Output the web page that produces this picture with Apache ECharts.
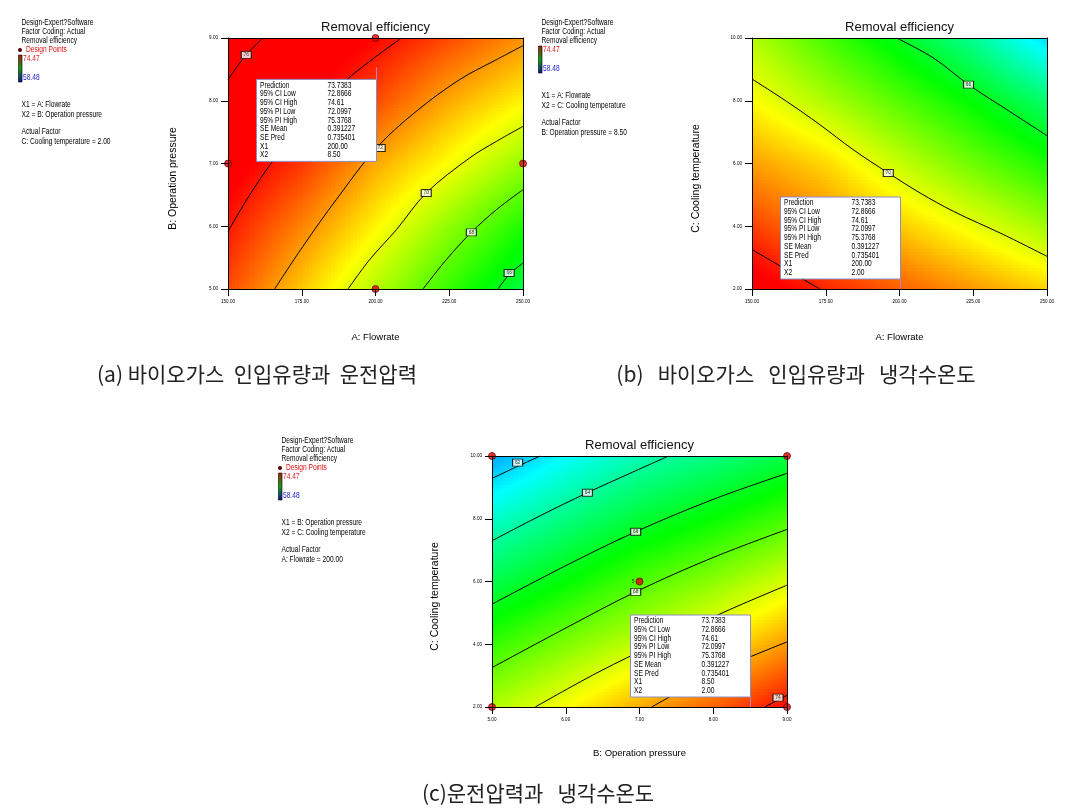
<!DOCTYPE html>
<html><head><meta charset="utf-8">
<script src="https://cdn.jsdelivr.net/npm/echarts@6/dist/echarts.min.js"></script>
<style>html,body{margin:0;padding:0;background:#fff}#c{width:1065px;height:810px}</style>
</head><body><div id="c"></div>
<script>
// ---------------- DATA ----------------
const flowTicks = [150, 175, 200, 225, 250];
const pressTicks = [5, 6, 7, 8, 9];
const coolTicks = [2, 4, 6, 8, 10];
const colorMin = 58.48, colorMax = 74.47;

// Response surface estimates at grid nodes (rows = Y ticks bottom->top, cols = X ticks left->right)
const surfA = [ // X: Flowrate, Y: Operation pressure
  [73.3, 71.3, 69.3, 67.3, 65.4],
  [74.1, 72.4, 70.6, 68.7, 66.9],
  [74.9, 73.6, 71.8, 70.4, 68.8],
  [75.7, 74.6, 73.3, 71.8, 70.6],
  [76.5, 75.4, 74.4, 73.3, 72.2]
];
const surfB = [ // X: Flowrate, Y: Cooling temperature
  [75.0, 73.9, 73.0, 72.1, 71.2],
  [73.5, 72.4, 71.3, 70.2, 69.0],
  [72.0, 71.1, 69.6, 68.2, 66.9],
  [70.5, 69.2, 67.8, 66.4, 64.8],
  [69.3, 67.6, 66.0, 64.2, 61.9]
];
const surfC = [ // X: Operation pressure, Y: Cooling temperature
  [69.25, 70.46, 71.8, 72.95, 74.36],
  [67.3, 68.5, 69.6, 70.75, 72.1],
  [65.3, 66.46, 67.7, 68.7, 69.87],
  [63.3, 64.5, 65.64, 66.55, 67.6],
  [61.1, 62.5, 63.7, 64.5, 65.4]
];

// Contour lines
const a76 = [[150,8.336],[156.2,8.734],[161.9,9.0]];
const a74 = [[150,5.919],[158.5,6.583],[169.8,7.327],[181.1,7.911],[191.2,8.373],[200.3,8.708],[208.8,9.0]];
const a72 = [[165.8,5.0],[175.4,5.680],[186.7,6.424],[200.3,7.247],[213.8,7.831],[228.5,8.336],[241.0,8.655],[250,8.878]];
const a70 = [[190.7,5.0],[198.0,5.467],[207.1,5.946],[217.2,6.530],[231.9,7.088],[241.0,7.353],[250,7.592]];
const a68 = [[216.1,5.0],[224.0,5.467],[232.5,5.903],[241.0,6.264],[250,6.583]];
const a66 = [[241.5,5.0],[245.3,5.228],[250,5.414]];
const b66 = [[199.0,10.0],[211.5,9.362],[223.4,8.513],[236.4,7.716],[250,6.887]];
const b70 = [[150,8.693],[161.7,7.981],[173.0,7.238],[184.3,6.441],[196.2,5.697],[207.0,5.060],[218.3,4.475],[235.3,3.732],[250,3.041]];
const b74 = [[150,3.254],[161.7,2.616],[173.0,2.0]];
const c62 = [[5,9.287],[5.338,9.660],[5.654,10.0]];
const c64 = [[5,7.298],[5.654,8.096],[6.294,8.830],[6.871,9.447],[7.395,10.0]];
const c66 = [[5,5.277],[5.970,6.468],[6.948,7.585],[7.999,8.617],[9,9.447]];
const c68 = [[5,3.255],[5.970,4.479],[6.948,5.670],[7.999,6.766],[9,7.660]];
const c70 = [[5.586,2.0],[6.421,3.085],[7.323,4.128],[8.224,5.106],[9,5.883]];
const c72 = [[7.165,2.0],[8.089,3.170],[9,4.074]];
const c74 = [[8.698,2.0],[9,2.372]];

// Contour labels [x, y, text]
const labelsA = [[156.2,8.73,'76'],[201.6,7.247,'72'],[217.2,6.53,'70'],[232.5,5.903,'68'],[245.3,5.255,'66']];
const labelsB = [[223.4,8.513,'66'],[196.2,5.697,'70']];
const labelsC = [[5.347,9.787,'62'],[6.294,8.83,'64'],[6.948,7.585,'66'],[6.948,5.67,'68'],[8.878,2.298,'74']];

// Design points
const designA = [[200,9],[150,7],[250,7],[200,5]];
const designC = [[5,10],[9,10],[5,2],[9,2],[7,6]];

// Prediction boxes
const predA = [200, 8.5], predB = [200, 2], predC = [8.5, 2];
const predNames = ['Prediction','95% CI Low','95% CI High','95% PI Low','95% PI High','SE Mean','SE Pred','X1','X2'];
const predStats = ['73.7383','72.8666','74.61','72.0997','75.3768','0.391227','0.735401'];
const predXA = ['200.00','8.50'], predXB = ['200.00','2.00'], predXC = ['8.50','2.00'];

// ---------------- RENDERING ----------------
const SANS = 'Liberation Sans';
const KR = '"Noto Sans CJK KR"';
const SQUEEZE = 0.78;

const cmap = [[0,[0,0,255]],[0.25,[0,255,255]],[0.5,[0,255,0]],[0.75,[255,255,0]],[1,[255,0,0]]];
function colorOf(v){
  let t = (v - colorMin) / (colorMax - colorMin);
  t = Math.max(0, Math.min(1, t));
  for (let k = 0; k < cmap.length - 1; k++) {
    const a = cmap[k], b = cmap[k+1];
    if (t <= b[0]) {
      const f = (t - a[0]) / (b[0] - a[0]);
      const c = a[1].map((x, n) => Math.round(x + (b[1][n] - x) * f));
      return 'rgb(' + c.join(',') + ')';
    }
  }
  return 'rgb(255,0,0)';
}

function heatSeries(xT, yT, surf, ai){
  const cells = [];
  for (let j = 0; j < yT.length - 1; j++) for (let i = 0; i < xT.length - 1; i++) cells.push([xT[i], yT[j], i, j]);
  return {
    type: 'custom', xAxisIndex: ai, yAxisIndex: ai, z: 1, silent: true, animation: false,
    data: cells, encode: {x: 0, y: 1},
    renderItem(params, api){
      const i = api.value(2), j = api.value(3);
      const p0 = api.coord([xT[i], yT[j]]), p1 = api.coord([xT[i+1], yT[j+1]]);
      const v00 = surf[j][i], v10 = surf[j][i+1], v01 = surf[j+1][i], v11 = surf[j+1][i+1];
      const N = 20, w = (p1[0] - p0[0]) / N, h = (p0[1] - p1[1]) / N;
      const children = [];
      for (let a = 0; a < N; a++) for (let b = 0; b < N; b++) {
        const u = (a + 0.5) / N, t = (b + 0.5) / N;
        const v = v00*(1-u)*(1-t) + v10*u*(1-t) + v01*(1-u)*t + v11*u*t;
        children.push({type: 'rect', shape: {x: p0[0] + a*w, y: p0[1] - (b+1)*h, width: w + 0.8, height: h + 0.8}, style: {fill: colorOf(v)}});
      }
      return {type: 'group', children};
    }
  };
}
function lineSeries(pts, ai){
  return {type: 'line', xAxisIndex: ai, yAxisIndex: ai, data: pts, smooth: 0.35, symbol: 'none', silent: true,
    animation: false, lineStyle: {color: '#000', width: 1}, z: 2};
}
function labelSeries(pts, ai){
  return {type: 'scatter', xAxisIndex: ai, yAxisIndex: ai, data: pts, symbol: 'rect', symbolSize: [10, 7], silent: true,
    animation: false, z: 3, itemStyle: {color: '#fff', borderColor: '#000', borderWidth: 1},
    label: {show: true, position: 'inside', formatter: p => p.value[2], fontSize: 4.8, color: '#000', fontFamily: SANS}};
}
function designSeries(pts, ai){
  return {type: 'scatter', xAxisIndex: ai, yAxisIndex: ai, data: pts, symbol: 'circle', symbolSize: 7, clip: false,
    silent: true, animation: false, z: 6, itemStyle: {color: '#e00000', borderColor: '#600000', borderWidth: 0.9}};
}
function sqText(s, x, y, color, size){
  return {type: 'text', x: x, y: y, scaleX: SQUEEZE, silent: true,
    style: {text: s, x: 0, y: 0, fill: color || '#000', fontSize: size || 8.5, fontFamily: SANS, verticalAlign: 'middle'}};
}
function predSeries(pt, xs, below, ai){
  return {
    type: 'custom', xAxisIndex: ai, yAxisIndex: ai, z: 5, silent: true, animation: false, clip: false,
    data: [pt], encode: {x: 0, y: 1},
    renderItem(params, api){
      const c = api.coord([api.value(0), api.value(1)]);
      const W = 120, H = 82;
      const right = Math.round(c[0]) + 0.5, left = right - W;
      const top = below ? c[1] + 10 : c[1] - 10 - H;
      const vals = predStats.concat(xs);
      const ch = [];
      ch.push({type: 'line', shape: below ? {x1: right, y1: c[1] - 2, x2: right, y2: top} : {x1: right, y1: top + H, x2: right, y2: c[1]},
        style: {stroke: '#c080d0', lineWidth: 1}});
      ch.push({type: 'rect', shape: {x: left, y: top, width: W, height: H}, style: {fill: '#fff', stroke: '#8c8cc0', lineWidth: 1}});
      predNames.forEach((n, k) => {
        const y = top + 6 + k * 8.7;
        ch.push(sqText(n, left + 3.5, y));
        ch.push(sqText(vals[k], left + 71, y));
      });
      return {type: 'group', children: ch};
    }
  };
}

const grids = [
  {left: 228, top: 38, width: 295, height: 251},
  {left: 752, top: 38, width: 295, height: 251},
  {left: 492, top: 456, width: 295, height: 251}
];
function xAxes(gi, ticks, name, gap){
  return [{
    gridIndex: gi, type: 'value', min: ticks[0], max: ticks[ticks.length-1], interval: ticks[1]-ticks[0], position: 'bottom', z: 10,
    name: name, nameLocation: 'middle', nameGap: gap, nameTextStyle: {fontSize: 9.5, color: '#000', fontFamily: SANS},
    axisLine: {show: true, onZero: false, lineStyle: {color: '#000', width: 1}},
    axisTick: {show: true, length: 7, lineStyle: {color: '#000', width: 1}},
    axisLabel: {fontSize: 4.6, color: '#000', margin: 10, fontFamily: SANS, formatter: v => v.toFixed(2)},
    splitLine: {show: false}
  }, {
    gridIndex: gi, type: 'value', min: ticks[0], max: ticks[ticks.length-1], position: 'top', z: 10,
    axisLine: {show: true, onZero: false, lineStyle: {color: '#000', width: 1}}, axisTick: {show: false}, axisLabel: {show: false}, splitLine: {show: false}
  }];
}
function yAxes(gi, ticks, name, gap){
  return [{
    gridIndex: gi, type: 'value', min: ticks[0], max: ticks[ticks.length-1], interval: ticks[1]-ticks[0], position: 'left', z: 10,
    name: name, nameLocation: 'middle', nameGap: gap,
    nameTextStyle: {fontSize: 10.5, color: '#000', fontFamily: SANS, padding: [0, 30, 0, 0]},
    axisLine: {show: true, onZero: false, lineStyle: {color: '#000', width: 1}},
    axisTick: {show: true, length: 7, lineStyle: {color: '#000', width: 1}},
    axisLabel: {fontSize: 4.6, color: '#000', margin: 10, fontFamily: SANS, formatter: v => v.toFixed(2)},
    splitLine: {show: false}
  }, {
    gridIndex: gi, type: 'value', min: ticks[0], max: ticks[ticks.length-1], position: 'right', z: 10,
    axisLine: {show: true, onZero: false, lineStyle: {color: '#000', width: 1}}, axisTick: {show: false}, axisLabel: {show: false}, splitLine: {show: false}
  }];
}

// legend blocks
function legendBlock(x, y0, hasDesign, x1, x2, actual){
  const g = [];
  g.push(sqText('Design-Expert?Software', x, y0));
  g.push(sqText('Factor Coding: Actual', x, y0 + 8.5));
  g.push(sqText('Removal efficiency', x, y0 + 18));
  let yb;
  if (hasDesign) {
    g.push({type: 'circle', silent: true, shape: {cx: x - 1.5, cy: y0 + 27, r: 2}, style: {fill: '#500000'}});
    g.push(sqText('Design Points', x + 4.5, y0 + 27, '#e01010'));
    yb = y0 + 32;
  } else {
    yb = y0 + 23;
  }
  g.push({type: 'rect', silent: true, shape: {x: x - 3, y: yb, width: 3.5, height: 27},
    style: {fill: {type: 'linear', x: 0, y: 0, x2: 0, y2: 1, colorStops: [{offset: 0, color: '#b01808'}, {offset: 0.5, color: '#10a010'}, {offset: 1, color: '#0c0ca0'}]}, stroke: '#000', lineWidth: 0.6}});
  g.push(sqText('74.47', x + 1.5, yb + 4, '#e02020'));
  g.push(sqText('58.48', x + 1.5, yb + 23, '#2020d0'));
  g.push(sqText(x1, x, yb + 50));
  g.push(sqText(x2, x, yb + 60));
  g.push(sqText('Actual Factor', x, yb + 77));
  g.push(sqText(actual, x, yb + 86.5));
  return g;
}

function title(x, y){
  return {type: 'text', silent: true, style: {text: 'Removal efficiency', x: x, y: y, fill: '#111', fontSize: 13, fontFamily: SANS, align: 'center', verticalAlign: 'middle'}};
}
function caption(s, x, y){
  return {type: 'text', silent: true, style: {text: s, x: x, y: y, fill: '#222', fontSize: 21, fontFamily: KR, align: 'center', verticalAlign: 'middle'}};
}

const graphics = [].concat(
  legendBlock(21.5, 23, true, 'X1 = A: Flowrate', 'X2 = B: Operation pressure', 'C: Cooling temperature = 2.00'),
  legendBlock(541.5, 23, false, 'X1 = A: Flowrate', 'X2 = C: Cooling temperature', 'B: Operation pressure = 8.50'),
  legendBlock(281.5, 441, true, 'X1 = B: Operation pressure', 'X2 = C: Cooling temperature', 'A: Flowrate = 200.00'),
  [
    title(375.5, 27), title(899.5, 27), title(639.5, 445),
    caption('(a) 바이오가스  인입유량과  운전압력', 257, 374),
    caption('(b)   바이오가스   인입유량과   냉각수온도', 796, 374),
    caption('(c)운전압력과   냉각수온도', 538, 793)
  ]
);

const designCData = designC.map((p, k) => k === designC.length - 1
  ? {value: p, label: {show: true, formatter: '5', position: 'left', distance: 1, fontSize: 5, color: '#000', fontFamily: SANS}}
  : p);

const option = {
  backgroundColor: '#fff',
  animation: false,
  grid: grids,
  xAxis: [].concat(xAxes(0, flowTicks, 'A: Flowrate', 43), xAxes(1, flowTicks, 'A: Flowrate', 43), xAxes(2, pressTicks, 'B: Operation pressure', 41)),
  yAxis: [].concat(yAxes(0, pressTicks, 'B: Operation pressure', 49), yAxes(1, coolTicks, 'C: Cooling temperature', 50), yAxes(2, coolTicks, 'C: Cooling temperature', 51)),
  series: [
    heatSeries(flowTicks, pressTicks, surfA, 0),
    heatSeries(flowTicks, coolTicks, surfB, 2),
    heatSeries(pressTicks, coolTicks, surfC, 4),
    lineSeries(a76, 0), lineSeries(a74, 0), lineSeries(a72, 0), lineSeries(a70, 0), lineSeries(a68, 0), lineSeries(a66, 0),
    lineSeries(b66, 2), lineSeries(b70, 2), lineSeries(b74, 2),
    lineSeries(c62, 4), lineSeries(c64, 4), lineSeries(c66, 4), lineSeries(c68, 4), lineSeries(c70, 4), lineSeries(c72, 4), lineSeries(c74, 4),
    labelSeries(labelsA, 0), labelSeries(labelsB, 2), labelSeries(labelsC, 4),
    predSeries(predA, predXA, true, 0), predSeries(predB, predXB, false, 2), predSeries(predC, predXC, false, 4),
    designSeries(designA, 0), designSeries(designCData, 4)
  ],
  graphic: graphics
};
const chart = echarts.init(document.getElementById('c'), null, {renderer: 'canvas'});
chart.setOption(option);
</script></body></html>
